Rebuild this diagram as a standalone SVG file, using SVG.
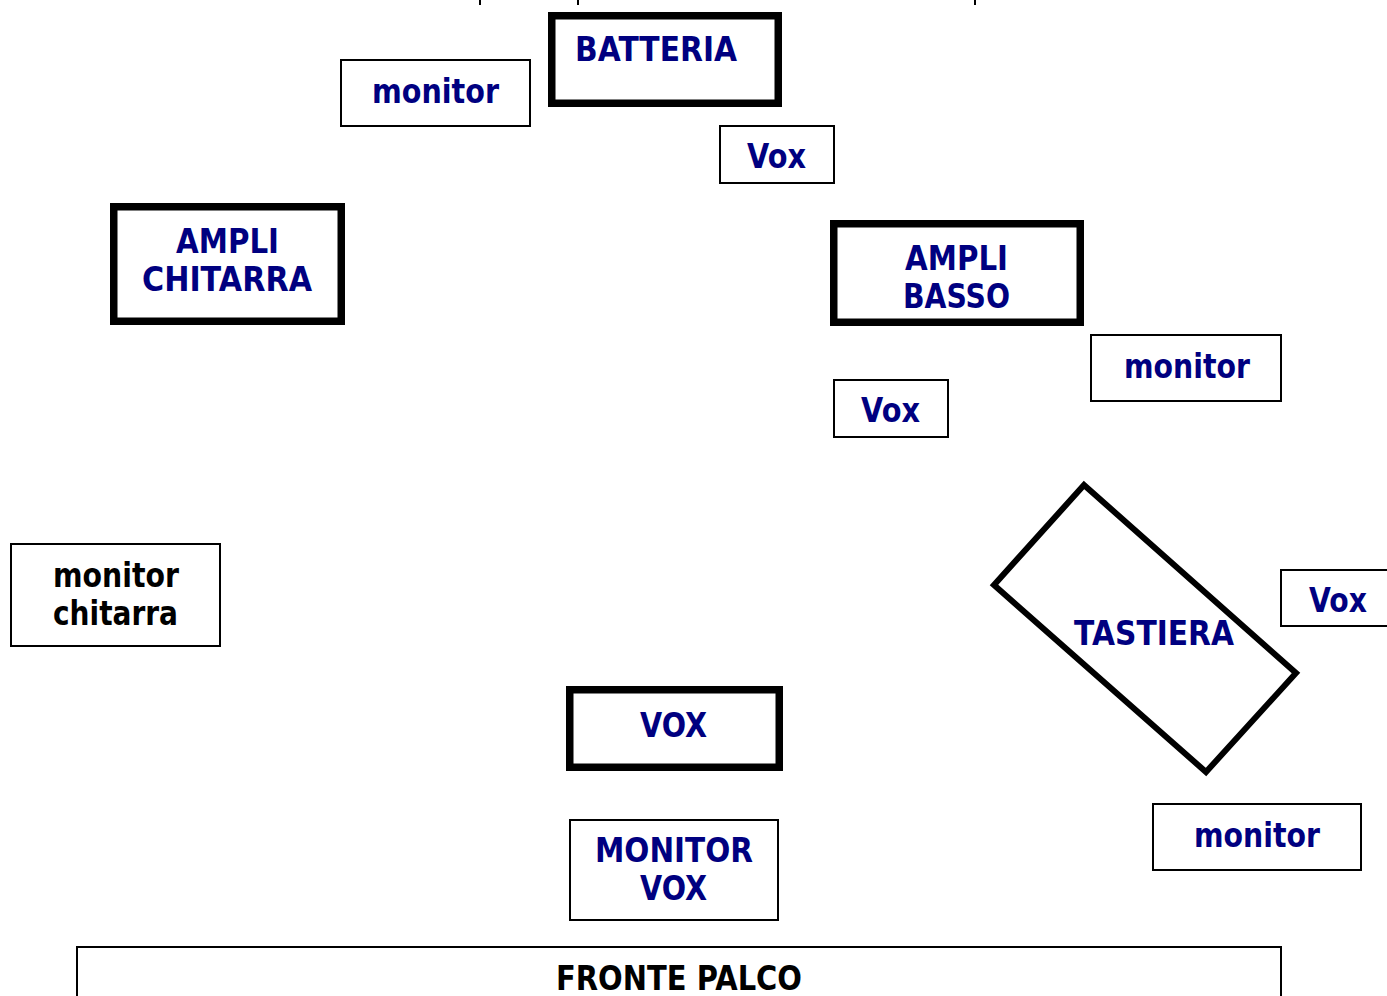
<svg xmlns="http://www.w3.org/2000/svg" width="1387" height="996" viewBox="0 0 1387 996">
<style>
.thin{fill:#fff;stroke:#000;stroke-width:2}
.thick{fill:#fff;stroke:#000;stroke-width:7.5}
text{font-family:"DejaVu Sans","Verdana",sans-serif;font-weight:bold;font-size:33px;fill:#000080}
text.blk{fill:#000}
</style>
<rect width="1387" height="996" fill="#fff"/>
<g id="ticks" stroke="#000" stroke-width="2">
<line x1="480" y1="0" x2="480" y2="5"/>
<line x1="578" y1="0" x2="578" y2="5"/>
<line x1="975" y1="0" x2="975" y2="5"/>
</g>
<g id="connectors"></g>
<g id="batteria"><rect class="thick" x="551.75" y="15.75" width="226.5" height="87.5"/><text x="575" y="61" textLength="162" lengthAdjust="spacingAndGlyphs">BATTERIA</text></g>
<g id="monitor1"><rect class="thin" x="341" y="60" width="189" height="66"/><text x="372" y="103" textLength="127" lengthAdjust="spacingAndGlyphs">monitor</text></g>
<g id="vox1"><rect class="thin" x="720" y="126" width="114" height="57"/><text x="747" y="168" textLength="59" lengthAdjust="spacingAndGlyphs">Vox</text></g>
<g id="ampli-chitarra"><rect class="thick" x="113.75" y="206.75" width="227.5" height="114.5"/><text x="176" y="253" textLength="103" lengthAdjust="spacingAndGlyphs">AMPLI</text><text x="142" y="291" textLength="170" lengthAdjust="spacingAndGlyphs">CHITARRA</text></g>
<g id="ampli-basso"><rect class="thick" x="833.75" y="223.75" width="246.5" height="98.5"/><text x="905" y="270" textLength="103" lengthAdjust="spacingAndGlyphs">AMPLI</text><text x="903" y="308" textLength="107" lengthAdjust="spacingAndGlyphs">BASSO</text></g>
<g id="monitor2"><rect class="thin" x="1091" y="335" width="190" height="66"/><text x="1124" y="378" textLength="126" lengthAdjust="spacingAndGlyphs">monitor</text></g>
<g id="vox2"><rect class="thin" x="834" y="380" width="114" height="57"/><text x="861" y="422" textLength="59" lengthAdjust="spacingAndGlyphs">Vox</text></g>
<g id="monitor-chitarra"><rect class="thin" x="11" y="544" width="209" height="102"/><text class="blk" x="53" y="587" textLength="126" lengthAdjust="spacingAndGlyphs">monitor</text><text class="blk" x="53" y="625" textLength="125" lengthAdjust="spacingAndGlyphs">chitarra</text></g>
<g id="tastiera"><polygon class="thin" style="stroke-width:6" points="1084,485 1296,673 1206,772 994,585"/><text x="1074" y="645" textLength="160" lengthAdjust="spacingAndGlyphs">TASTIERA</text></g>
<g id="vox3"><rect class="thin" x="1281" y="570" width="110" height="56"/><text x="1309" y="612" textLength="58" lengthAdjust="spacingAndGlyphs">Vox</text></g>
<g id="vox-main"><rect class="thick" x="569.75" y="689.75" width="209.5" height="77.5"/><text x="640" y="737" textLength="67" lengthAdjust="spacingAndGlyphs">VOX</text></g>
<g id="monitor-vox"><rect class="thin" x="570" y="820" width="208" height="100"/><text x="595" y="862" textLength="158" lengthAdjust="spacingAndGlyphs">MONITOR</text><text x="640" y="900" textLength="67" lengthAdjust="spacingAndGlyphs">VOX</text></g>
<g id="monitor3"><rect class="thin" x="1153" y="804" width="208" height="66"/><text x="1194" y="847" textLength="126" lengthAdjust="spacingAndGlyphs">monitor</text></g>
<g id="fronte-palco"><rect class="thin" x="77" y="947" width="1204" height="60"/><text class="blk" x="556" y="990" textLength="246" lengthAdjust="spacingAndGlyphs">FRONTE PALCO</text></g>
</svg>
